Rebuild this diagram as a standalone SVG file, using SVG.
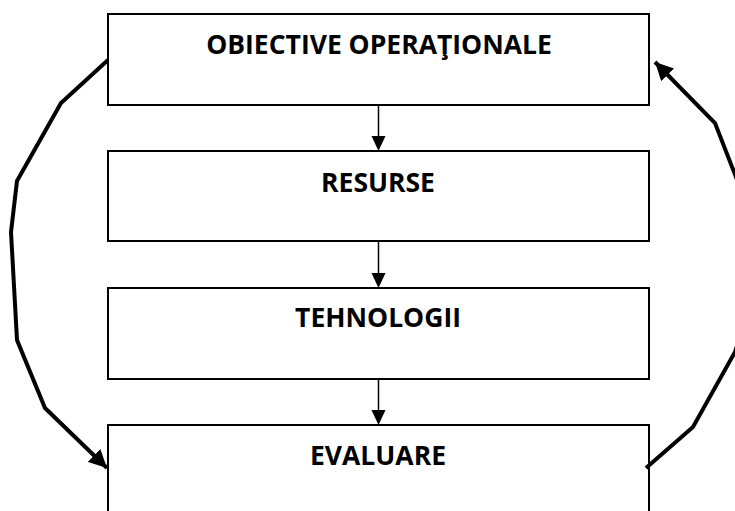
<svg xmlns="http://www.w3.org/2000/svg" width="735" height="511" viewBox="0 0 735 511">
<style>
.box{fill:#fff;stroke:#000;stroke-width:2}
.lbl{font-family:"Open Sans","Liberation Sans",sans-serif;font-weight:700;font-size:26.5px;text-anchor:middle;fill:#000}
.v{stroke:#000;stroke-width:1.5;fill:none}
.c{stroke:#000;stroke-width:4;fill:none;stroke-linejoin:miter}
</style>
<defs>
<marker id="ah2" viewBox="0 0 10 10" refX="10" refY="5" markerWidth="4.5" markerHeight="4.5" orient="auto"><path d="M0,0L10,5L0,10z" fill="#000"/></marker>
</defs>
<g id="n1"><rect class="box" x="108" y="14" width="541" height="91"/><text class="lbl" x="379" y="54">OBIECTIVE OPERAŢIONALE</text></g>
<g id="n2"><rect class="box" x="108" y="151" width="541" height="90"/><text class="lbl" x="378" y="192">RESURSE</text></g>
<g id="n3"><rect class="box" x="108" y="288" width="541" height="91"/><text class="lbl" x="378" y="327">TEHNOLOGII</text></g>
<g id="n4"><rect class="box" x="108" y="425" width="541" height="100"/><text class="lbl" x="378" y="465">EVALUARE</text></g>
<g id="connectors">
<line class="v" x1="378.5" y1="105" x2="378.5" y2="137"/>
<path d="M371.5,136L385.5,136L378.5,151z" fill="#000"/>
<line class="v" x1="378.5" y1="241" x2="378.5" y2="274"/>
<path d="M371.5,273L385.5,273L378.5,288z" fill="#000"/>
<line class="v" x1="378.5" y1="379" x2="378.5" y2="411"/>
<path d="M371.5,410L385.5,410L378.5,425z" fill="#000"/>
<path class="c" d="M108,60L61,103L17,181L11,232L17,340L45,408L107,468" marker-end="url(#ah2)"/>
<path class="c" d="M646,468L693,427L735,352L742,330L747,240L741,190L715,123L655,62" marker-end="url(#ah2)"/>
</g>
</svg>
